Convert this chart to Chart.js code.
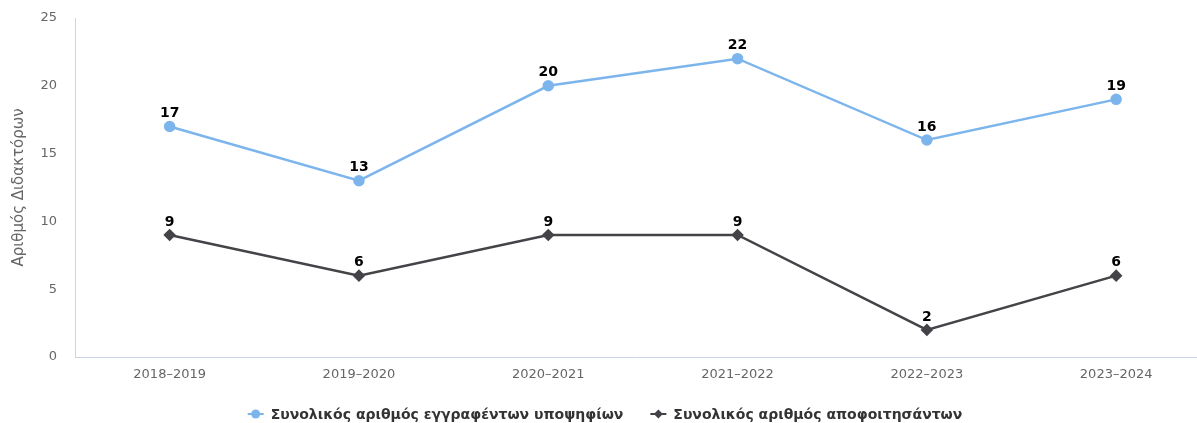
<!DOCTYPE html>
<html>
<head>
<meta charset="utf-8">
<script src="https://cdn.jsdelivr.net/npm/chart.js@4"></script>
<style>
  html, body { margin: 0; padding: 0; background: #fff; overflow: hidden; }
  #wrap { width: 1197px; height: 423px; overflow: hidden; }
</style>
</head>
<body>
<div id="wrap"><canvas id="chart" width="1204" height="423"></canvas></div>
<script>
// Academic years and PhD counts
const years = ['2018–2019', '2019–2020', '2020–2021', '2021–2022', '2022–2023', '2023–2024'];
const enrolled = [17, 13, 20, 22, 16, 19];
const graduated = [9, 6, 9, 9, 2, 6];
const seriesNames = ['Συνολικός αριθμός εγγραφέντων υποψηφίων', 'Συνολικός αριθμός αποφοιτησάντων'];
const yTitle = 'Αριθμός Διδακτόρων';

const FONT = "'DejaVu Sans', sans-serif";
const BLUE = '#7cb5ec';
const DARK = '#434348';

// category slots run past the right edge of the plot
const xMin = -0.5;
const xMax = 5.427;

const toPoints = arr => arr.map((v, i) => ({ x: i, y: v }));

// value labels above each point
const valueLabels = {
    id: 'valueLabels',
    afterDatasetsDraw(chart) {
        const ctx = chart.ctx;
        ctx.save();
        ctx.font = 'bold 14px ' + FONT;
        ctx.fillStyle = '#000';
        ctx.textAlign = 'center';
        ctx.textBaseline = 'bottom';
        chart.data.datasets.forEach((ds, i) => {
            chart.getDatasetMeta(i).data.forEach((pt, j) => {
                ctx.fillText(String(ds.data[j].y), pt.x, pt.y - 6);
            });
        });
        ctx.restore();
    }
};

// legend with a line + marker symbol for each series
const lineLegend = {
    id: 'lineLegend',
    afterDraw(chart) {
        const ctx = chart.ctx;
        ctx.save();
        ctx.font = 'bold 14px ' + FONT;
        const symW = 16, gap = 7, itemGap = 27;
        const items = chart.data.datasets.map(ds => ({
            ds, w: symW + gap + ctx.measureText(ds.label).width
        }));
        const total = items.reduce((s, it) => s + it.w, 0) + itemGap * (items.length - 1);
        let x = 605 - total / 2;
        const y = 414;
        items.forEach(it => {
            const c = it.ds.borderColor;
            ctx.strokeStyle = c;
            ctx.lineWidth = 2;
            ctx.beginPath();
            ctx.moveTo(x, y);
            ctx.lineTo(x + symW, y);
            ctx.stroke();
            ctx.fillStyle = c;
            ctx.beginPath();
            if (it.ds.pointStyle === 'rectRot') {
                const r = 4.5;
                ctx.moveTo(x + symW / 2, y - r);
                ctx.lineTo(x + symW / 2 + r, y);
                ctx.lineTo(x + symW / 2, y + r);
                ctx.lineTo(x + symW / 2 - r, y);
                ctx.closePath();
            } else {
                ctx.arc(x + symW / 2, y, 4.5, 0, Math.PI * 2);
            }
            ctx.fill();
            ctx.fillStyle = '#333';
            ctx.textAlign = 'left';
            ctx.textBaseline = 'middle';
            ctx.fillText(it.ds.label, x + symW + gap, y + 1);
            x += it.w + itemGap;
        });
        ctx.restore();
    }
};

new Chart(document.getElementById('chart'), {
    type: 'line',
    data: {
        datasets: [
            {
                label: seriesNames[0],
                data: toPoints(enrolled),
                borderColor: BLUE,
                backgroundColor: BLUE,
                borderWidth: 2.5,
                pointStyle: 'circle',
                pointRadius: 4.5,
                pointHoverRadius: 4.5,
                tension: 0
            },
            {
                label: seriesNames[1],
                data: toPoints(graduated),
                borderColor: DARK,
                backgroundColor: DARK,
                borderWidth: 2.5,
                pointStyle: 'rectRot',
                pointRadius: 4.5,
                pointHoverRadius: 4.5,
                tension: 0
            }
        ]
    },
    options: {
        responsive: false,
        animation: false,
        layout: { padding: { top: 18, right: 0, bottom: 36, left: 0 } },
        plugins: {
            legend: { display: false },
            tooltip: { enabled: false }
        },
        scales: {
            x: {
                type: 'linear',
                min: xMin,
                max: xMax,
                grid: { display: false, drawTicks: false },
                border: { display: true, color: '#ccd6eb', width: 1 },
                ticks: {
                    color: '#666',
                    font: { family: FONT, size: 13 },
                    padding: 10,
                    maxRotation: 0,
                    autoSkip: false,
                    callback: v => years[v]
                },
                afterBuildTicks(scale) { scale.ticks = years.map((_, i) => ({ value: i })); },
                afterFit(scale) {
                    scale.height = 30;
                    scale.paddingLeft = 0;
                    scale.paddingRight = 0;
                }
            },
            y: {
                min: 0,
                max: 25,
                grid: { display: false, drawTicks: false },
                border: { display: true, color: '#ccd6eb', width: 1 },
                ticks: { stepSize: 5, color: '#666', font: { family: FONT, size: 13 }, padding: 18 },
                title: {
                    display: true,
                    text: yTitle,
                    color: '#666',
                    font: { family: FONT, size: 15 },
                    padding: { top: 10, bottom: 0 }
                },
                afterFit(scale) {
                    scale.width = 75;
                    scale.paddingTop = 0;
                    scale.paddingBottom = 0;
                }
            }
        }
    },
    plugins: [valueLabels, lineLegend]
});
</script>
</body>
</html>
